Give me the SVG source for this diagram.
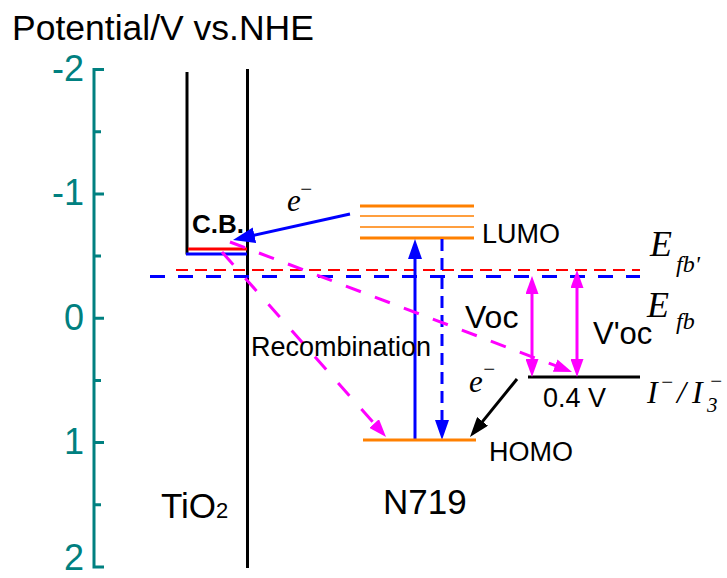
<svg xmlns="http://www.w3.org/2000/svg" width="727" height="578" viewBox="0 0 727 578">
<style>
.sans{font-family:"Liberation Sans",Arial,sans-serif;fill:#000}
.serif{font-family:"Liberation Serif","Times New Roman",serif;font-style:italic;fill:#000}
.axl{font-family:"Liberation Sans",Arial,sans-serif;font-size:36px;fill:#008080;text-anchor:end}
.ax{stroke:#008080;stroke-width:3;fill:none}
.blk{stroke:#000;stroke-width:3;fill:none}
.org{stroke:#FF8000;fill:none}
.mag{stroke:#FF00FF;stroke-width:3;fill:none}
.blue{stroke:#0000FF;stroke-width:3;fill:none}
</style>
<defs>
<marker id="hb" markerUnits="userSpaceOnUse" markerWidth="22" markerHeight="16" refX="6" refY="8" orient="auto-start-reverse"><path d="M0,0 L22,8 L0,16 z" fill="#0000FF"/></marker>
<marker id="hbv" markerUnits="userSpaceOnUse" markerWidth="20" markerHeight="14" refX="6" refY="7" orient="auto-start-reverse"><path d="M0,0 L20,7 L0,14 z" fill="#0000FF"/></marker>
<marker id="hm" markerUnits="userSpaceOnUse" markerWidth="18" markerHeight="13" refX="6" refY="6.5" orient="auto-start-reverse"><path d="M0,0 L18,6.5 L0,13 z" fill="#FF00FF"/></marker>
<marker id="hk" markerUnits="userSpaceOnUse" markerWidth="20" markerHeight="14" refX="6" refY="7" orient="auto-start-reverse"><path d="M0,0 L20,7 L0,14 z" fill="#000"/></marker>
</defs>

<g id="title"><text class="sans" x="12" y="40" font-size="35.5">Potential/V vs.NHE</text></g>

<g id="axis">
<path class="ax" d="M104,69.5 H94 V567 H104"/>
<path class="ax" d="M94,193.9 H104 M94,318.3 H104 M94,442.6 H104 M94,131.7 H101 M94,256.1 H101 M94,380.5 H101 M94,504.8 H101"/>
<text class="axl" x="84" y="81">-2</text>
<text class="axl" x="84" y="205">-1</text>
<text class="axl" x="84" y="330">0</text>
<text class="axl" x="84" y="454">1</text>
<text class="axl" x="84" y="570">2</text>
</g>

<g id="tio2">
<path class="blk" d="M187,72 V254.5"/>
<path class="blk" d="M247.5,69 V568"/>
<path d="M188,249 H247" stroke="#FF0000" stroke-width="3"/>
<path d="M186,254 H247" stroke="#0000FF" stroke-width="3"/>
<text class="sans" x="192" y="233" font-size="26" font-weight="bold">C.B.</text>
<text class="sans" x="161" y="518" font-size="35">TiO<tspan font-size="22">2</tspan></text>
</g>

<g id="fermi">
<path d="M176,270 H640" stroke="#FF0000" stroke-width="2" stroke-dasharray="12,7"/>
<path d="M150,276.5 H640" stroke="#0000FF" stroke-width="3" stroke-dasharray="15,13"/>
<text class="serif" x="650" y="256" font-size="36">E</text>
<text class="serif" x="676" y="272" font-size="24">fb'</text>
<text class="serif" x="647" y="317" font-size="36">E</text>
<text class="serif" x="676" y="329" font-size="24">fb</text>
</g>

<g id="lumo">
<path class="org" stroke-width="3" d="M360,206 H474 M360,238 H474"/>
<path class="org" stroke-width="1.6" d="M360,216 H474 M360,227 H474"/>
<text class="sans" x="482" y="243" font-size="27">LUMO</text>
</g>

<g id="homo">
<text class="sans" x="489" y="461" font-size="27">HOMO</text>
<text class="sans" x="383" y="514" font-size="35">N719</text>
</g>

<g id="redox">
<path class="blk" d="M528,377 H640"/>
<text class="sans" x="543" y="407" font-size="27">0.4 V</text>
<text class="serif" x="647" y="403" font-size="32">I</text>
<text class="serif" x="660" y="389" font-size="21">−</text>
<text class="serif" x="677" y="403" font-size="32">/</text>
<text class="serif" x="692" y="403" font-size="32">I</text>
<text class="serif" x="707" y="412" font-size="21">3</text>
<text class="serif" x="709" y="388" font-size="21">−</text>
</g>

<g id="connectors">
<path class="blue" d="M350,214 L248.6,236.5" marker-end="url(#hb)"/>
<path class="blue" d="M415,440 V253" marker-end="url(#hbv)"/>
<path class="blue" d="M442,239 V426" stroke-dasharray="12,7" marker-end="url(#hbv)"/>
<path class="mag" d="M222,252 L378.1,428" stroke-dasharray="17,18" marker-end="url(#hm)"/>
<path class="mag" d="M230,242 L560.8,367.7" stroke-dasharray="16,15" marker-end="url(#hm)"/>
<path class="mag" d="M532,288 V365" marker-start="url(#hm)" marker-end="url(#hm)"/>
<path class="mag" d="M577,282 V365" marker-start="url(#hm)" marker-end="url(#hm)"/>
<path class="blk" d="M517,379 L478.8,426.1" marker-end="url(#hk)"/>
<path class="org" stroke-width="3" d="M363,440 H476"/>
</g>

<g id="labels">
<text class="serif" x="287" y="211" font-size="31">e</text>
<text class="serif" x="299" y="196" font-size="21">−</text>
<text class="serif" x="469" y="392" font-size="31">e</text>
<text class="serif" x="482" y="376" font-size="21">−</text>
<text class="sans" x="251" y="356" font-size="27">Recombination</text>
<text class="sans" x="465" y="328" font-size="32">Voc</text>
<text class="sans" x="593" y="344" font-size="31">V'oc</text>
</g>
</svg>
